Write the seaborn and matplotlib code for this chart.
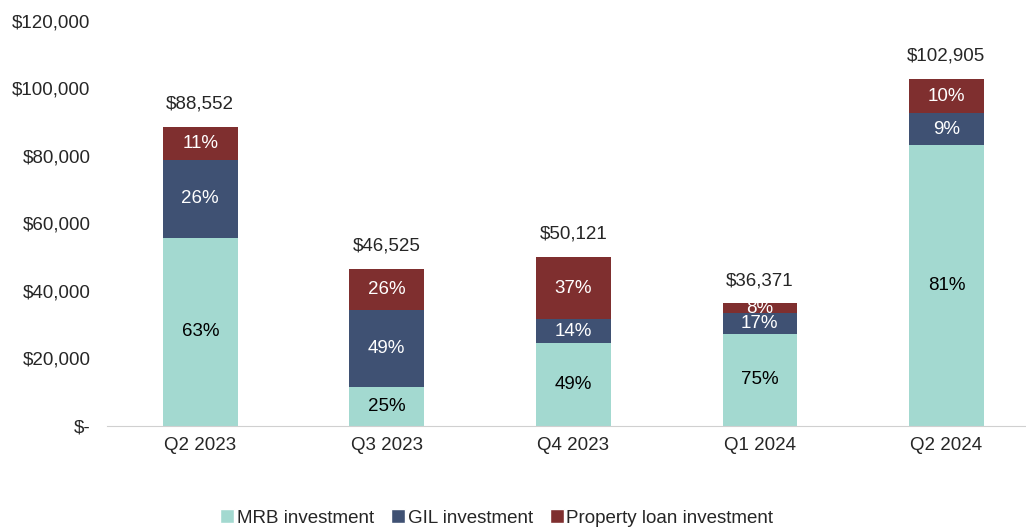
import numpy as np
import pandas as pd
import matplotlib
matplotlib.use("Agg")
import matplotlib.pyplot as plt
import seaborn as sns
from matplotlib.patches import Patch
from matplotlib.ticker import FuncFormatter

# Data (USD)
quarters = ["Q2 2023", "Q3 2023", "Q4 2023", "Q1 2024", "Q2 2024"]
mrb = [55788, 11631, 24559, 27278, 83353]
gil = [23023, 22797, 7017, 6183, 9261]
prop = [9741, 12097, 18545, 2910, 10291]
totals = [88552, 46525, 50121, 36371, 102905]
mrb_pct = ["63%", "25%", "49%", "75%", "81%"]
gil_pct = ["26%", "49%", "14%", "17%", "9%"]
prop_pct = ["11%", "26%", "37%", "8%", "10%"]

series = ["MRB investment", "GIL investment", "Property loan investment"]
colors = ["#A3D9D0", "#3F5173", "#7F2F2F"]
text_colors = ["black", "white", "white"]

sns.set_style("white")
plt.rcParams["font.family"] = ["Liberation Sans", "DejaVu Sans"]
fs = 13.5

fig = plt.figure(figsize=(10.26, 5.27), dpi=100)
ax = fig.add_axes([0.1043, 0.1917, 0.909, 0.7685])

df = pd.DataFrame({"quarter": quarters, "mrb": mrb, "gil": gil, "prop": prop})
bottom = np.zeros(len(quarters))
for col, lab, c, tc, pcts in zip(["mrb", "gil", "prop"], series, colors, text_colors,
                                 [mrb_pct, gil_pct, prop_pct]):
    sns.barplot(data=df, x="quarter", y=col, color=c, width=0.40, bottom=bottom,
                ax=ax, saturation=1, linewidth=0, order=quarters)
    vals = df[col].values
    for i, (v, p) in enumerate(zip(vals, pcts)):
        ax.text(i, bottom[i] + v / 2, p, ha="center", va="center", color=tc, fontsize=fs)
    bottom = bottom + vals

for i, t in enumerate(totals):
    ax.text(i, bottom[i] + 4200, f"${t:,}", ha="center", va="bottom", fontsize=fs)

ax.set_ylim(0, 120000)
ax.set_xlim(-0.5, 4.5)
ax.set_yticks(np.arange(0, 120001, 20000))
ax.yaxis.set_major_formatter(FuncFormatter(lambda v, _: "$-" if v == 0 else f"${v:,.0f}"))
ax.tick_params(axis="both", length=0, labelsize=fs, pad=8)
ax.tick_params(axis="y", pad=12)
ax.set_xlabel("")
ax.set_ylabel("")
for s in ["top", "right", "left"]:
    ax.spines[s].set_visible(False)
ax.spines["bottom"].set_color("#D0D0D0")

handles = [Patch(facecolor=c, label=l) for c, l in zip(colors, series)]
fig.legend(handles=handles, loc="center", bbox_to_anchor=(0.484, 0.017), ncol=3,
           frameon=False, fontsize=fs, handlelength=0.75, handleheight=0.75,
           handletextpad=0.15, columnspacing=0.9)

fig.savefig("out.png", dpi=100)
